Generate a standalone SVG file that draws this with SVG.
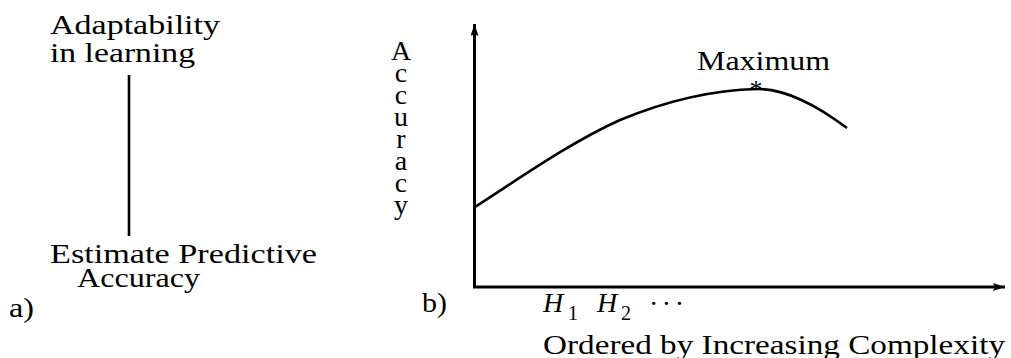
<svg xmlns="http://www.w3.org/2000/svg" width="1011" height="358" viewBox="0 0 1011 358">
<style>
.t{font-family:'Liberation Serif','DejaVu Serif','Times New Roman',serif;font-size:28px;fill:#000}
.ti{font-family:'Liberation Serif','DejaVu Serif','Times New Roman',serif;font-size:28px;font-style:italic;fill:#000}
.sub{font-family:'Liberation Serif','DejaVu Serif','Times New Roman',serif;font-size:20px;fill:#000}
.vt{writing-mode:vertical-rl;text-orientation:upright;letter-spacing:-9px}
.ax{stroke:#000;stroke-width:3;fill:none}
.ln{stroke:#000;stroke-width:2.6;fill:none}
</style>
<defs>
<marker id="arr" markerUnits="userSpaceOnUse" markerWidth="14" markerHeight="10" refX="12" refY="4" orient="auto">
<path d="M0,0 L12,4 L0,8 L2,4 Z" fill="#000"/>
</marker>
</defs>
<rect width="1011" height="358" fill="#fff"/>
<g id="panel-a">
<g id="node-adaptability">
<text class="t" x="50" y="34" textLength="170" lengthAdjust="spacingAndGlyphs">Adaptability</text>
<text class="t" x="50" y="62" textLength="145" lengthAdjust="spacingAndGlyphs">in learning</text>
</g>
<g id="node-estimate">
<text class="t"><tspan x="50" y="263" textLength="267" lengthAdjust="spacingAndGlyphs">Estimate Predictive</tspan><tspan x="77" y="287" textLength="123" lengthAdjust="spacingAndGlyphs">Accuracy</tspan></text>
</g>
<text id="label-a" class="t" x="9" y="317" textLength="25" lengthAdjust="spacingAndGlyphs">a)</text>
</g>
<g id="connectors">
<line class="ln" x1="129" y1="75" x2="129" y2="236"/>
<line class="ax" x1="474.5" y1="288" x2="474.5" y2="24" marker-end="url(#arr)"/>
<line class="ax" x1="473" y1="287" x2="1005" y2="287" marker-end="url(#arr)"/>
<path class="ln" d="M475,207 C523,176 572,141.6 620,120 C666,101 711,90 757,89 C787,89 817,105.5 847,128"/>
</g>
<g id="panel-b">
<text id="y-label" class="t vt" x="401" y="35">Accuracy</text>
<g id="maximum">
<text class="t" x="697" y="70" textLength="133" lengthAdjust="spacingAndGlyphs">Maximum</text>
<text class="t" text-anchor="middle" x="756" y="98" style="font-size:26px">*</text>
</g>
<g id="x-ticks">
<text class="ti" x="543" y="312">H</text>
<text class="sub" x="568" y="320">1</text>
<text class="ti" x="597" y="312">H</text>
<text class="sub" x="621" y="320">2</text>
<text class="t" x="649" y="313" textLength="35" lengthAdjust="spacing">· · ·</text>
</g>
<text id="x-label" class="t" x="543" y="354" textLength="462" lengthAdjust="spacingAndGlyphs">Ordered by Increasing Complexity</text>
<text id="label-b" class="t" x="422" y="312" textLength="25" lengthAdjust="spacingAndGlyphs">b)</text>
</g>
</svg>
